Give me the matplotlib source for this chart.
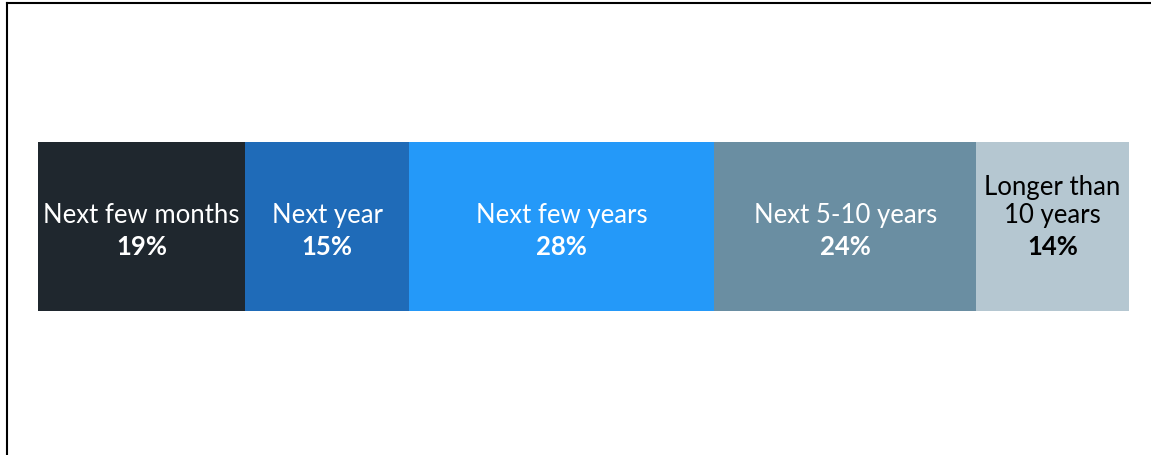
import matplotlib.pyplot as plt
from matplotlib.lines import Line2D

# Share of respondents by expected timeframe
labels = ['Next few months', 'Next year', 'Next few years', 'Next 5-10 years', 'Longer than\n10 years']
values = [19, 15, 28, 24, 14]
colors = ['#1F272E', '#1F6BB8', '#2499F9', '#6A8EA2', '#B5C7D1']
text_colors = ['white', 'white', 'white', 'white', 'black']

plt.rcParams['font.family'] = ['Lato', 'DejaVu Sans']

W, H = 1151, 456
fig = plt.figure(figsize=(W / 100, H / 100), dpi=100)
ax = fig.add_axes([38 / W, (H - 312) / H, (1129 - 38) / W, (312 - 143) / H])

left = 0
for lab, val, col, tc in zip(labels, values, colors, text_colors):
    ax.barh(0, val, left=left, height=1, color=col, edgecolor='none')
    cx = left + val / 2
    ax.text(cx, -0.005, lab, ha='center', va='bottom', color=tc, fontsize=18.5,
            linespacing=1.17)
    ax.text(cx, -0.115, f'{val}%', ha='center', va='center', color=tc, fontsize=18.5,
            fontweight='bold')
    left += val

ax.set_xlim(0, sum(values))
ax.set_ylim(-0.5, 0.5)
ax.axis('off')

# frame lines along the top and left edge
fig.add_artist(Line2D([7 / W, 7 / W], [0, 1 - 4 / H], transform=fig.transFigure, color='black', lw=1.5))
fig.add_artist(Line2D([7 / W, 1], [1 - 4 / H, 1 - 4 / H], transform=fig.transFigure, color='black', lw=1.5))

fig.savefig('out.png', dpi=100, facecolor='white')
